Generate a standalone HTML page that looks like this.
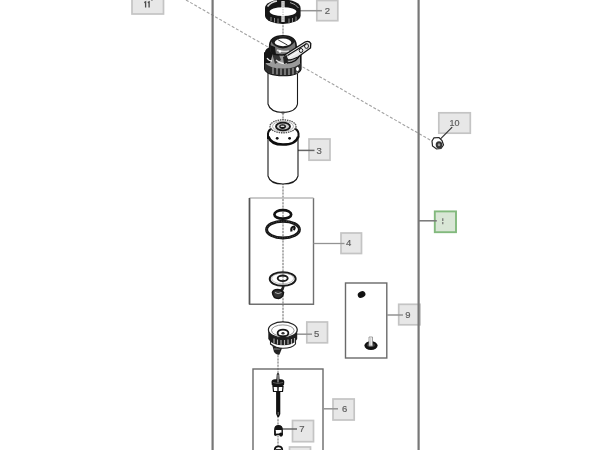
<!DOCTYPE html>
<html><head><meta charset="utf-8">
<style>
html,body{margin:0;padding:0;background:#fff;width:600px;height:450px;overflow:hidden}
svg{display:block;filter:blur(0.45px)}
text{font-family:"Liberation Sans",sans-serif;fill:#5a5a5a;font-weight:normal;font-size:10px;stroke:#666;stroke-width:0.2;text-anchor:middle}
.lbl{fill:#e7e7e7;stroke:#c4c4c4;stroke-width:1.7}
.ld{stroke:#939393;stroke-width:1.5;fill:none}
.frame{stroke:#777;stroke-width:2.2;fill:none}
.box{stroke:#6a6a6a;stroke-width:1.4;fill:none}
.ax{stroke:#8a8a8a;stroke-width:1.2;stroke-dasharray:2 1.2;fill:none}
.axb{stroke:#e4e4e4;stroke-width:1.2;fill:none}
</style></head><body>
<svg width="600" height="450" viewBox="0 0 600 450">
<!-- dashed diagonal -->
<line x1="186" y1="0" x2="431" y2="140.5" stroke="#a2a2a2" stroke-width="1.1" stroke-dasharray="3 1.8"/>
<!-- axis -->
<line class="axb" x1="283" y1="22" x2="283" y2="322"/>
<line class="axb" x1="278" y1="352" x2="278" y2="450"/>
<line class="ax" x1="283" y1="22" x2="283" y2="40"/>
<line class="ax" x1="283" y1="110" x2="283" y2="122"/>
<line class="ax" x1="283" y1="183" x2="283" y2="322"/>
<line class="ax" x1="278" y1="352" x2="278" y2="450"/>
<!-- boxes -->
<path class="box" d="M249.5,198 L249.5,304.3 L313.5,304.3 L313.5,198" style="stroke:#707070"/>
<line x1="249.5" y1="198" x2="313.5" y2="198" stroke="#b8b8b8" stroke-width="1.6"/>
<line x1="249.5" y1="198" x2="249.5" y2="304" stroke="#555" stroke-width="1.5"/>
<rect class="box" x="253" y="369" width="70" height="100"/>
<rect class="box" x="345.5" y="283" width="41.3" height="75"/>
<!-- labels -->
<rect class="lbl" x="132" y="-6" width="31.5" height="20"/>
<path d="M144.3,2.6 L145.6,1.8 L145.6,7.4 M147.8,2.6 L149.1,1.8 L149.1,7.4" stroke="#4a4a4a" stroke-width="1.3" fill="none"/>
<line class="ld" x1="151.5" y1="-2" x2="152" y2="1"/>
<rect class="lbl" x="316.8" y="0.5" width="21" height="20.2"/><text x="327.3" y="13.9" style="font-size:9.5px">2</text>

<line class="ld" x1="300" y1="10.7" x2="322" y2="10.7"/>
<rect class="lbl" x="309.0" y="139.0" width="21" height="21.2"/><text x="319.2" y="153.8" style="font-size:9.5px">3</text>

<line class="ld" x1="298" y1="150.4" x2="314.5" y2="150.4" style="stroke:#666"/>
<rect class="lbl" x="341.0" y="233.0" width="20.5" height="20.5"/><text x="348.7" y="245.9" style="font-size:9.5px">4</text>

<line class="ld" x1="313.5" y1="243.5" x2="344.5" y2="243.5" style="stroke-width:1.3"/>
<rect class="lbl" x="306.8" y="322.0" width="20.7" height="20.8"/><text x="316.7" y="336.8" style="font-size:9.5px">5</text>

<line class="ld" x1="297" y1="334.2" x2="312" y2="334.2"/>
<rect class="lbl" x="333.0" y="399.0" width="21.2" height="21"/><text x="344.6" y="412" style="font-size:9.5px">6</text>

<line class="ld" x1="323" y1="408.8" x2="338" y2="408.8"/>
<rect class="lbl" x="292.5" y="420.5" width="21" height="21.2"/><text x="302" y="432.1" style="font-size:9.5px">7</text>

<line class="ld" x1="281" y1="429" x2="297" y2="429" style="stroke:#666"/>
<rect class="lbl" x="289.5" y="447.0" width="21" height="19"/><text x="300.0" y="459.9" style="font-size:9.5px"></text>

<rect class="lbl" x="398.7" y="304.3" width="21.3" height="20.5"/><text x="407.8" y="317.7" style="font-size:9.5px">9</text>

<line class="ld" x1="387" y1="315" x2="403" y2="315"/>
<rect class="lbl" x="438.8" y="112.8" width="31.5" height="20.4"/><text x="454.55" y="126.2" style="font-size:9px">10</text>

<line x1="452.2" y1="127.2" x2="438.3" y2="141.1" stroke="#333" stroke-width="1.2"/>
<!-- label 1 green -->
<rect x="434.8" y="211.4" width="21.2" height="20.8" fill="#d9e6d6" stroke="#82b97d" stroke-width="1.9"/>
<line class="ld" x1="419" y1="220.8" x2="436.8" y2="220.8" style="stroke:#777"/>
<line x1="442.8" y1="218.2" x2="442.8" y2="224.3" stroke="#666" stroke-width="1.1" stroke-dasharray="2.8 0.9"/>
<!-- main frame lines -->
<line class="frame" x1="212.6" y1="0" x2="212.6" y2="450"/>
<line class="frame" x1="418.6" y1="0" x2="418.6" y2="450"/>
<!-- ===== PARTS ===== -->
<!-- ring 2 -->
<g id="ring2">
 <path d="M265,8 A17.8,8.5 0 0 1 300.6,8 L300.6,15.5 A17.8,8.5 0 0 1 265,15.5 Z" fill="#161616"/>
 <ellipse cx="283" cy="11.6" rx="13.4" ry="4.3" fill="#fff"/>
 <path d="M267.5,6.5 Q271,2 277,1" stroke="#fff" stroke-width="1.6" fill="none" opacity="0.85"/>
 <path d="M290,2.5 Q296,4 298.5,8" stroke="#fff" stroke-width="1" fill="none" opacity="0.6"/>
 <g stroke="#fff" stroke-width="0.9" opacity="0.55">
  <line x1="271" y1="17" x2="271" y2="21"/>
  <line x1="274.5" y1="18" x2="274.5" y2="22.5"/>
  <line x1="278" y1="18.5" x2="278" y2="23"/>
  <line x1="289" y1="18.5" x2="289" y2="23"/>
  <line x1="292.5" y1="18" x2="292.5" y2="22.5"/>
  <line x1="296" y1="16.5" x2="296" y2="21"/>
 </g>
 <rect x="281.3" y="1" width="3.4" height="21" fill="#fff" opacity="0.8"/>
 <line x1="283" y1="2" x2="283" y2="21" stroke="#999" stroke-width="0.8" stroke-dasharray="1.2 1.2"/>
</g>
<!-- housing -->
<g id="housing">
 <!-- bowl -->
 <path d="M268,72 L268,104 Q270,112 283,112.5 Q296,112 297.5,104 L297.5,72" fill="#fff" stroke="#1a1a1a" stroke-width="1.1"/>
 <rect x="281.5" y="111.5" width="3" height="2" fill="#444"/>
 <!-- band body -->
 <path d="M264.8,53 L264.8,69 Q267,75.5 283,75.5 Q299,75.5 300.8,69 L300.8,53 Z" fill="#9a9a9a" stroke="#111" stroke-width="1.6"/>
 <path d="M264.8,63 L264.8,69 Q267,75.5 283,75.5 Q299,75.5 300.8,69 L300.8,63 Q296,68.5 283,68.5 Q270,68.5 264.8,63 Z" fill="#2e2e2e"/>
 <g stroke="#cfcfcf" stroke-width="1.1" opacity="0.8">
  <line x1="273" y1="67.5" x2="273" y2="74"/>
  <line x1="277" y1="68" x2="277" y2="74.5"/>
  <line x1="281" y1="68.5" x2="281" y2="75"/>
  <line x1="285" y1="68.5" x2="285" y2="75"/>
  <line x1="289" y1="68.5" x2="289" y2="75"/>
  <line x1="293" y1="68" x2="293" y2="74.5"/>
  <line x1="297" y1="67" x2="297" y2="73.5"/>
 </g>
 <path d="M264.8,53 Q265,48 271,47 L273,53 L270,63 L264.8,63 Z" fill="#151515"/>
 <path d="M267,58 Q269,61 272,61" stroke="#eee" stroke-width="1.3" fill="none"/>
 <path d="M272,53 L278,52 L281,60 L275,64 Z" fill="#333"/>
 <path d="M276,60 Q283,66 290,62" stroke="#fff" stroke-width="1.2" fill="none" opacity="0.8"/>
 <path d="M287,63 Q297,63 300,54" stroke="#111" stroke-width="1.3" fill="none"/>
 <path d="M288,60 Q295,59 297,53" stroke="#fff" stroke-width="1.1" fill="none"/>
 <path d="M289,57.5 Q293,57 294.5,53" stroke="#111" stroke-width="1" fill="none"/>
 <!-- head dome -->
 <path d="M269.6,47 Q269.6,35.8 283,35.8 Q296.2,35.8 296.2,47 L295,52 Q289,55 282,55 Q273,55 270,52 Z" fill="#777" stroke="#151515" stroke-width="1.6"/>
 <path d="M270.5,40 Q276,36.5 283,36.6 Q291,36.6 295.5,40.5 Q291,48 283,48.5 Q274,48 270.5,40 Z" fill="#1c1c1c"/>
 <ellipse cx="283" cy="42.4" rx="8.2" ry="3.8" fill="#fff"/>
 <line x1="278.2" y1="39.9" x2="287.5" y2="45.1" stroke="#222" stroke-width="0.9"/>
 <path d="M270,45 L270.5,52 Q273,54 276,54.5 L275,47 Z" fill="#151515"/>
 <path d="M277,50 Q282,52.5 289,51" stroke="#ddd" stroke-width="1.5" fill="none"/>
 <circle cx="280" cy="51.5" r="1.2" fill="#fff"/>
 <!-- bracket -->
 <path d="M284.5,55 L305,42 Q309,40.2 310.8,43.5 L310.5,48 L298,57 Q292,60 288,60 Z" fill="#e6e6e6" stroke="#111" stroke-width="1.3"/>
 <path d="M287.5,55.5 L306.5,43.8" stroke="#111" stroke-width="1.1"/>
 <path d="M289,57.5 L307,46" stroke="#fff" stroke-width="0.9"/>
 <ellipse cx="306.5" cy="46" rx="2" ry="2.4" fill="none" stroke="#222" stroke-width="1"/>
 <ellipse cx="301" cy="50.5" rx="1.8" ry="2" fill="none" stroke="#222" stroke-width="1"/>
 <path d="M283,57 L287,55 L288,63 L284,64 Z" fill="#222"/>
 <ellipse cx="297.5" cy="69" rx="2" ry="2.6" fill="#fff" stroke="#222" stroke-width="0.9"/>
</g>
<!-- filter 3 -->
<g id="filter3">
 <path d="M268,133 L268,176 Q270,184 283,184 Q296,184 298,176 L298,133" fill="#fff" stroke="#1a1a1a" stroke-width="1.1"/>
 <path d="M268,138 L268,133.5 Q268.5,129 272,128 L294,128 Q298.5,129 298.5,133.5 L298.5,137 Q296,144 283,144 Q270,144 268,138 Z" fill="#fff"/>
 <path d="M268,139 L268,133.5 Q268.5,129.5 272.5,128.5" stroke="#111" stroke-width="2" fill="none"/>
 <path d="M298.5,137.5 L298.5,133.5 Q298,129.5 294,128.5" stroke="#111" stroke-width="2" fill="none"/>
 <path d="M268.3,136.5 Q271,144.6 283,144.6 Q296,144.6 298.2,136.5" stroke="#0d0d0d" stroke-width="2.5" fill="none"/>
 <circle cx="277.2" cy="138.3" r="1.4" fill="#111"/>
 <circle cx="289.6" cy="138.3" r="1.4" fill="#111"/>
 <ellipse cx="283" cy="126.3" rx="13" ry="6.5" fill="#fff" stroke="#555" stroke-width="1.4" stroke-dasharray="1.5 0.8"/>
 <ellipse cx="283" cy="126.3" rx="10.5" ry="5" fill="none" stroke="#aaa" stroke-width="0.9"/>
 <ellipse cx="283" cy="126.5" rx="7" ry="3.9" fill="#ccc" stroke="#1a1a1a" stroke-width="1.9"/>
 <ellipse cx="282.6" cy="126.6" rx="3.3" ry="2.3" fill="#111"/>
 <rect x="280.7" y="125.6" width="3.6" height="1.4" fill="#fff" opacity="0.85"/>
</g>
<!-- box4 parts -->
<g id="orings">
  <ellipse cx="282.8" cy="214.4" rx="8.4" ry="4.3" fill="none" stroke="#111" stroke-width="2.7"/>
 <ellipse cx="283" cy="229.6" rx="16.4" ry="8.4" fill="none" stroke="#151515" stroke-width="3"/>
 <ellipse cx="283" cy="229.6" rx="16.4" ry="8.4" fill="none" stroke="#777" stroke-width="0.5" stroke-dasharray="1 1.5"/>
 <path d="M291.5,231.5 Q290.5,227 294,226.5 Q295.5,228 293.5,230" stroke="#111" stroke-width="2.2" fill="none"/>
<ellipse cx="282.7" cy="279" rx="13" ry="6.8" fill="none" stroke="#1a1a1a" stroke-width="1.9"/>
 <ellipse cx="282.7" cy="278.5" rx="11" ry="5.3" fill="none" stroke="#999" stroke-width="0.6"/>
 <ellipse cx="282.7" cy="278.3" rx="5" ry="2.8" fill="none" stroke="#1a1a1a" stroke-width="1.9"/>
 <path d="M283.5,285.5 Q283,289.5 280.5,291" stroke="#222" stroke-width="2.4" fill="none"/>
 <path d="M272.5,292.5 Q273,298.5 278.5,298.5 Q283,298 283.5,292.5 Q281,289.5 277.5,289.5 Q273,289.8 272.5,292.5 Z" fill="#333" stroke="#151515" stroke-width="1.6"/>
 <path d="M275,292.5 Q278,294.8 281.5,292.5" stroke="#bbb" stroke-width="0.9" fill="none"/>
</g>
<!-- part 5 -->
<g id="part5">
 <path d="M272.5,346 L274,352 Q276.5,355.5 279.5,354.5 L282.5,347 Z" fill="#222"/>
 <path d="M274,349 L280,349" stroke="#fff" stroke-width="0.8" opacity="0.6"/>
 <path d="M270.5,340 L270.5,344 Q276,348.3 283,348.3 Q292,348.3 295.5,344 L295.5,340 Z" fill="#fff" stroke="#222" stroke-width="1.1"/>
 <path d="M268.3,329 L268.3,339 Q272,345.3 283,345.3 Q294,345.3 297.2,339 L297.2,329 Z" fill="#1e1e1e"/>
 <g stroke="#e0e0e0" stroke-width="1.1" opacity="0.75">
  <line x1="274" y1="338.5" x2="274" y2="343.5"/>
  <line x1="277.5" y1="339.5" x2="277.5" y2="344.5"/>
  <line x1="281" y1="340" x2="281" y2="345"/>
  <line x1="284.5" y1="340" x2="284.5" y2="345"/>
  <line x1="288" y1="339.5" x2="288" y2="344.5"/>
  <line x1="291.5" y1="339" x2="291.5" y2="344"/>
  <line x1="294.5" y1="338" x2="294.5" y2="342.5"/>
 </g>
 <ellipse cx="282.8" cy="329.8" rx="14.4" ry="7.9" fill="#fff" stroke="#222" stroke-width="1.2"/>
 <ellipse cx="282.8" cy="330.5" rx="11.3" ry="5.6" fill="none" stroke="#777" stroke-width="0.8"/>
 <ellipse cx="283" cy="333" rx="5.4" ry="3.4" fill="none" stroke="#161616" stroke-width="1.8"/>
 <ellipse cx="283" cy="333.2" rx="1.6" ry="1.3" fill="#333"/>
</g>
<!-- part 6 bolt -->
<g id="bolt6">
 <path d="M276.1,391 L276.1,414 L277.5,417 L279,417 L280.3,414 L280.3,391 Z" fill="#111"/>
 <rect x="277.6" y="412" width="1.2" height="3" fill="#fff" opacity="0.35"/>
 <path d="M273,386.5 L273.5,391.5 L282.5,391.5 L283,386.5 Z" fill="#fff" stroke="#111" stroke-width="1.2"/>
 <line x1="278" y1="387" x2="278" y2="391" stroke="#111" stroke-width="1.4"/>
 <path d="M271.5,382 Q271.5,379.5 275,379.3 L281,379.3 Q284.3,379.5 284.3,382 L284,385 Q282,387.2 278,387.2 Q273.5,387.2 271.8,385 Z" fill="#131313"/>
 <path d="M273,382.5 Q278,384.5 283,382.5" stroke="#888" stroke-width="0.6" fill="none"/>
 <path d="M276.3,380 L276.8,374 Q278,372 279.2,374 L279.6,380 Z" fill="#1a1a1a"/>
 <rect x="277.5" y="374.5" width="1" height="8" fill="#ccc"/>
</g>
<!-- nut 7 -->
<g id="nut7">
 <path d="M274.8,430 Q274.8,425.8 278.5,425.8 Q282.2,425.8 282.2,430 L282.2,434 L275,434.5 Z" fill="#fff" stroke="#111" stroke-width="1.4"/>
 <path d="M274.8,430 Q274.8,425.8 278.5,425.8 Q282.2,425.8 282.2,430 Z" fill="#151515"/>
 <path d="M275,430.5 L275,434.8 L276.5,435.5" stroke="#111" stroke-width="1.4" fill="none"/>
 <ellipse cx="281" cy="434.6" rx="1.9" ry="2.1" fill="#111"/>
 <path d="M274.8,451 L274.8,449.5 Q275,446.3 278.5,446.3 Q282,446.3 282.2,449.5 L282.2,451 Z" fill="#fff" stroke="#111" stroke-width="1.8"/><path d="M276,449 L281,449 L281,451 L276,451Z" fill="#333"/>
</g>
<!-- box9 parts -->
<g id="p9">
 <ellipse cx="361.6" cy="294.6" rx="4" ry="3.1" transform="rotate(-28 361.6 294.6)" fill="#111"/>
 <ellipse cx="371" cy="345.6" rx="6.6" ry="4.4" fill="#111"/>
 <ellipse cx="371" cy="345" rx="4" ry="2" fill="#666" opacity="0.5"/>
 <path d="M369,337 L369,346 L372.5,346 L372.5,337 Z" fill="#fff" stroke="#888" stroke-width="0.8"/>
 <line x1="370.8" y1="338" x2="370.8" y2="346" stroke="#999" stroke-width="0.6"/>
</g>
<!-- nut 10 -->
<g id="nut10">
 <path d="M432,141 L434,137.8 L439,137.5 L442,140.5 L443.5,145 L441,148.5 L436.5,149 L432.5,146 Z" fill="#fff" stroke="#222" stroke-width="1.2"/>
 <ellipse cx="439" cy="144.8" rx="3.3" ry="3.6" fill="#333"/>
 <ellipse cx="439" cy="144.8" rx="1.3" ry="1.5" fill="#999"/>
</g>

</svg>
</body></html>
